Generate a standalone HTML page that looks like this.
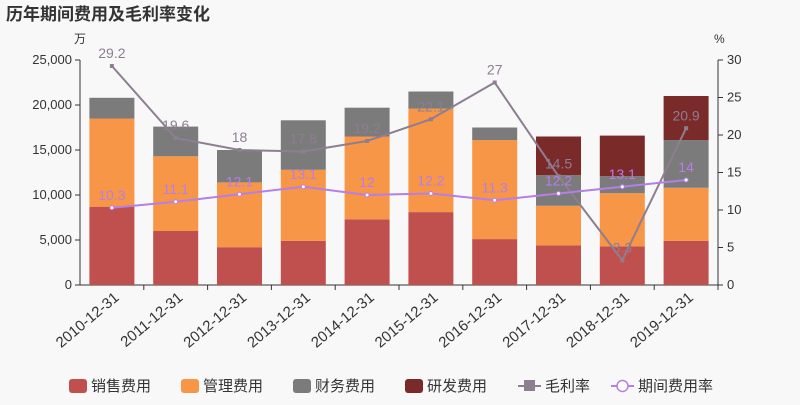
<!DOCTYPE html>
<html><head><meta charset="utf-8"><style>
body{margin:0;background:#f8f8f8;font-family:"Liberation Sans","Noto Sans CJK SC",sans-serif;}
svg text{font-family:"Liberation Sans","Noto Sans CJK SC",sans-serif;}
</style></head><body>
<svg id="c" width="800" height="400"></svg>
<script>
const categories=["2010-12-31","2011-12-31","2012-12-31","2013-12-31","2014-12-31","2015-12-31","2016-12-31","2017-12-31","2018-12-31","2019-12-31"];
const sales=[8700,6000,4200,4900,7300,8100,5100,4400,4300,4900];
const mgmt=[9800,8300,7200,7900,9200,11500,11000,4400,5900,5900];
const finance=[2300,3300,3600,5500,3200,1900,1400,3400,1900,5300];
const rnd=[0,0,0,0,0,0,0,4300,4500,4900];
const grossMargin=[29.2,19.6,18,17.8,19.2,22.1,27,14.5,3.3,20.9];
const periodRate=[10.3,11.1,12.1,13.1,12,12.2,11.3,12.2,13.1,14];
const leftTicks=[0,5000,10000,15000,20000,25000];
const rightTicks=[0,5,10,15,20,25,30];
const NS="http://www.w3.org/2000/svg";
const svg=document.getElementById('c');
function mk(t,a,p){const e=document.createElementNS(NS,t);for(const k in a)e.setAttribute(k,a[k]);(p||svg).appendChild(e);return e;}
const X0=80,X1=718,Y0=285,Y1=60;
const band=(X1-X0)/categories.length;
const xc=i=>X0+band*(i+0.5);
const yl=v=>Y0-(v/25000)*(Y0-Y1);
const yr=v=>Y0-(v/30)*(Y0-Y1);
let t=mk('text',{x:6,y:20,'font-size':17,'font-weight':'bold',fill:'#333'});t.textContent='历年期间费用及毛利率变化';

t=mk('text',{x:74,y:43,'font-size':12,fill:'#333'});t.textContent='万';

t=mk('text',{x:714,y:43,'font-size':12,fill:'#333'});t.textContent='%';

let l=mk('line',{x1:X0,y1:Y1,x2:X0,y2:Y0,stroke:'#333'});
l=mk('line',{x1:X1,y1:Y1,x2:X1,y2:Y0,stroke:'#333'});
l=mk('line',{x1:X0,y1:Y0,x2:X1,y2:Y0,stroke:'#333'});
leftTicks.forEach(v=>{mk('line',{x1:X0-5,y1:yl(v),x2:X0,y2:yl(v),stroke:'#333'});
 const e=mk('text',{x:X0-8,y:yl(v)+4,'font-size':13,fill:'#333','text-anchor':'end'});e.textContent=v.toLocaleString('en-US');
 });
rightTicks.forEach(v=>{mk('line',{x1:X1,y1:yr(v),x2:X1+5,y2:yr(v),stroke:'#333'});
 const e=mk('text',{x:X1+9,y:yr(v)+4,'font-size':13,fill:'#333'});e.textContent=v;
 });
const series=[[sales,'#c0504d','bar-sales'],[mgmt,'#f79646','bar-mgmt'],[finance,'#7b7b7b','bar-finance'],[rnd,'#7b2a2a','bar-rnd']];
categories.forEach((c,i)=>{
 mk('line',{x1:X0+band*(i+1),y1:Y0,x2:X0+band*(i+1),y2:Y0+5,stroke:'#333'});
 let base=0;
 series.forEach(([arr,col,nm])=>{const v=arr[i];if(v>0){
  const r=mk('rect',{x:xc(i)-22.5,y:yl(base+v),width:45,height:yl(base)-yl(base+v),fill:col});
  }base+=v;});
 const e=mk('text',{x:xc(i)+8,y:Y0+14,'font-size':15,fill:'#333','text-anchor':'end',transform:`rotate(-40 ${xc(i)+8} ${Y0+14})`});
 e.textContent=c;
});
function line(arr,col,nm,sq){
 const p=mk('polyline',{points:arr.map((v,i)=>xc(i)+','+yr(v)).join(' '),fill:'none',stroke:col,'stroke-width':2});
 
 arr.forEach((v,i)=>{
  const m=sq?mk('rect',{x:xc(i)-2,y:yr(v)-2,width:4,height:4,fill:col}):mk('circle',{cx:xc(i),cy:yr(v),r:2,fill:'#fff',stroke:col});
  
  const e=mk('text',{x:xc(i),y:yr(v)-8,'font-size':14,fill:col,'text-anchor':'middle'});e.textContent=v;
  });
}
line(grossMargin,'#8d7e91','gross-margin',true);
line(periodRate,'#b57ee8','period-rate',false);
const leg=[['销售费用','#c0504d',69],['管理费用','#f79646',181],['财务费用','#7b7b7b',293],['研发费用','#7b2a2a',405]];
leg.forEach(([n,c,x])=>{const g=mk('g',{});
 mk('rect',{x:x,y:379,width:18,height:14,rx:3,fill:c},g);
 const e=mk('text',{x:x+22,y:391,'font-size':15,fill:'#333'},g);e.textContent=n;});
let g=mk('g',{});
mk('line',{x1:518,y1:386,x2:541,y2:386,stroke:'#8d7e91','stroke-width':2},g);
mk('rect',{x:524,y:380,width:11,height:11,fill:'#8d7e91'},g);
t=mk('text',{x:545,y:391,'font-size':15,fill:'#333'},g);t.textContent='毛利率';
g=mk('g',{});
mk('line',{x1:611,y1:386,x2:634,y2:386,stroke:'#b57ee8','stroke-width':2},g);
mk('circle',{cx:622.5,cy:386,r:5.5,fill:'#fff',stroke:'#b57ee8','stroke-width':1.5},g);
t=mk('text',{x:638,y:391,'font-size':15,fill:'#333'},g);t.textContent='期间费用率';
</script>
</body></html>
